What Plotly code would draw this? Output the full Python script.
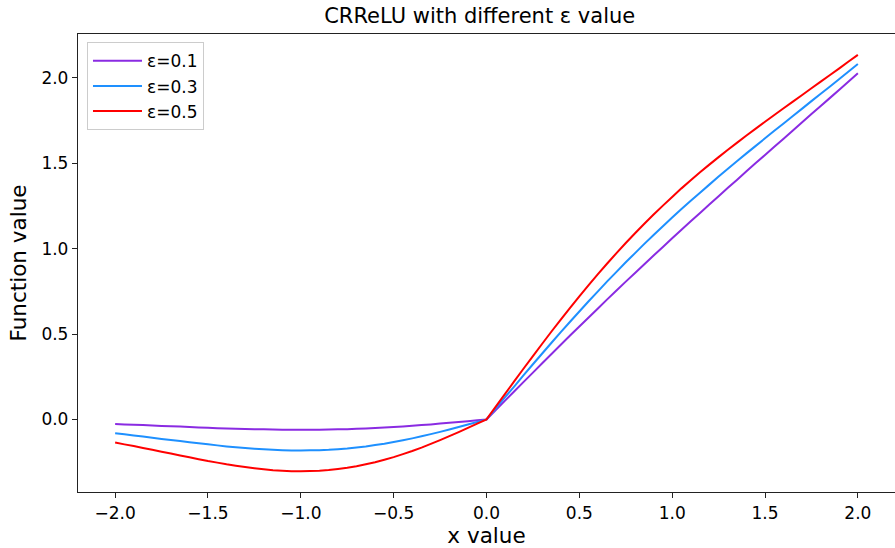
import plotly.graph_objects as go

x_vals = [-2.0, -1.95, -1.9, -1.85, -1.8, -1.75, -1.7, -1.65, -1.6, -1.55,
          -1.5, -1.45, -1.4, -1.35, -1.3, -1.25, -1.2, -1.15, -1.1, -1.05,
          -1.0, -0.95, -0.9, -0.85, -0.8, -0.75, -0.7, -0.65, -0.6, -0.55,
          -0.5, -0.45, -0.4, -0.35, -0.3, -0.25, -0.2, -0.15, -0.1, -0.05,
          0.0,
          0.05, 0.1, 0.15, 0.2, 0.25, 0.3, 0.35, 0.4, 0.45, 0.5,
          0.55, 0.6, 0.65, 0.7, 0.75, 0.8, 0.85, 0.9, 0.95, 1.0,
          1.05, 1.1, 1.15, 1.2, 1.25, 1.3, 1.35, 1.4, 1.45, 1.5,
          1.55, 1.6, 1.65, 1.7, 1.75, 1.8, 1.85, 1.9, 1.95, 2.0]

y_eps01 = [-0.027, -0.029, -0.031, -0.033, -0.036, -0.038, -0.040, -0.042, -0.044, -0.047,
           -0.049, -0.051, -0.053, -0.054, -0.056, -0.057, -0.058, -0.059, -0.060, -0.061,
           -0.061, -0.061, -0.060, -0.059, -0.058, -0.057, -0.055, -0.053, -0.050, -0.047,
           -0.044, -0.041, -0.037, -0.033, -0.029, -0.024, -0.020, -0.015, -0.010, -0.005,
           0.000,
           0.055, 0.110, 0.165, 0.220, 0.274, 0.329, 0.383, 0.437, 0.491, 0.544,
           0.597, 0.650, 0.703, 0.755, 0.807, 0.858, 0.909, 0.960, 1.010, 1.061,
           1.111, 1.160, 1.209, 1.258, 1.307, 1.356, 1.404, 1.453, 1.501, 1.549,
           1.597, 1.644, 1.692, 1.740, 1.788, 1.836, 1.883, 1.931, 1.979, 2.027]

y_eps03 = [-0.081, -0.087, -0.094, -0.100, -0.107, -0.114, -0.120, -0.127, -0.133, -0.140,
           -0.146, -0.152, -0.158, -0.163, -0.168, -0.172, -0.175, -0.178, -0.180, -0.182,
           -0.182, -0.181, -0.180, -0.178, -0.174, -0.170, -0.164, -0.158, -0.150, -0.142,
           -0.132, -0.122, -0.111, -0.099, -0.086, -0.073, -0.059, -0.044, -0.030, -0.015,
           0.000,
           0.065, 0.130, 0.194, 0.259, 0.323, 0.386, 0.449, 0.511, 0.572, 0.632,
           0.692, 0.750, 0.808, 0.864, 0.920, 0.974, 1.028, 1.080, 1.131, 1.182,
           1.232, 1.280, 1.328, 1.375, 1.422, 1.468, 1.513, 1.558, 1.602, 1.646,
           1.690, 1.733, 1.777, 1.820, 1.864, 1.907, 1.950, 1.994, 2.037, 2.081]

y_eps05 = [-0.135, -0.146, -0.156, -0.167, -0.178, -0.189, -0.200, -0.211, -0.222, -0.233,
           -0.244, -0.253, -0.263, -0.271, -0.279, -0.286, -0.292, -0.297, -0.300, -0.303,
           -0.303, -0.302, -0.300, -0.296, -0.290, -0.283, -0.274, -0.263, -0.251, -0.236,
           -0.221, -0.203, -0.185, -0.165, -0.143, -0.121, -0.098, -0.074, -0.050, -0.025,
           0.000,
           0.075, 0.150, 0.224, 0.298, 0.371, 0.443, 0.515, 0.585, 0.653, 0.721,
           0.786, 0.851, 0.913, 0.974, 1.033, 1.090, 1.146, 1.200, 1.252, 1.303,
           1.353, 1.400, 1.447, 1.492, 1.536, 1.579, 1.621, 1.663, 1.703, 1.743,
           1.783, 1.822, 1.861, 1.900, 1.939, 1.978, 2.017, 2.056, 2.096, 2.135]

series_names = ["ε=0.1", "ε=0.3", "ε=0.5"]
series_colors = ["#8A2BE2", "#1E90FF", "#FF0000"]
series_values = [y_eps01, y_eps03, y_eps05]

x_ticks = [-2.0, -1.5, -1.0, -0.5, 0.0, 0.5, 1.0, 1.5, 2.0]
x_tick_labels = ["−2.0", "−1.5", "−1.0", "−0.5", "0.0", "0.5", "1.0", "1.5", "2.0"]
y_ticks = [0.0, 0.5, 1.0, 1.5, 2.0]
y_tick_labels = ["0.0", "0.5", "1.0", "1.5", "2.0"]

fig = go.Figure()
for name, color, vals in zip(series_names, series_colors, series_values):
    fig.add_trace(go.Scatter(x=x_vals, y=vals, mode="lines", name=name,
                             line=dict(color=color, width=2, simplify=False)))

font_family = "DejaVu Sans"
fig.update_layout(
    width=895, height=548,
    margin=dict(l=78, r=0, t=34, b=56),
    paper_bgcolor="white", plot_bgcolor="white",
    font=dict(family=font_family, size=17, color="black"),
    title=dict(text="CRReLU with different ε value", x=0.536, xanchor="center",
               y=1 - 16 / 548, yanchor="middle", yref="container",
               font=dict(size=21, family=font_family, color="black")),
    showlegend=True,
    legend=dict(x=0.011, y=0.982, xanchor="left", yanchor="top",
                bgcolor="rgba(255,255,255,0.8)", bordercolor="#cccccc", borderwidth=1,
                itemwidth=49,
                font=dict(size=17, family=font_family)),
)
fig.update_xaxes(range=[-2.2, 2.2], tickvals=x_ticks, ticktext=x_tick_labels,
                 automargin=False,
                 showgrid=False, zeroline=False, showline=True, linecolor="#222222",
                 linewidth=1.3, mirror=True, ticks="outside", ticklen=5, tickwidth=1.1,
                 tickcolor="#222222", tickfont=dict(size=17),
                 title=dict(text="x value", font=dict(size=21.5, family=font_family), standoff=3))
fig.update_yaxes(range=[-0.425, 2.257], tickvals=y_ticks, ticktext=y_tick_labels,
                 automargin=False,
                 showgrid=False, zeroline=False, showline=True, linecolor="#222222",
                 linewidth=1.3, mirror=False, ticks="outside", ticklen=5, tickwidth=1.1,
                 tickcolor="#222222", tickfont=dict(size=17),
                 title=dict(text="Function value", font=dict(size=21.5, family=font_family), standoff=8))

page_fix = ("document.body.style.margin='0';"
            "document.body.style.overflow='hidden';"
            "document.documentElement.style.overflow='hidden';")

fig.write_html("out.html", post_script=page_fix, config={"displayModeBar": False})
